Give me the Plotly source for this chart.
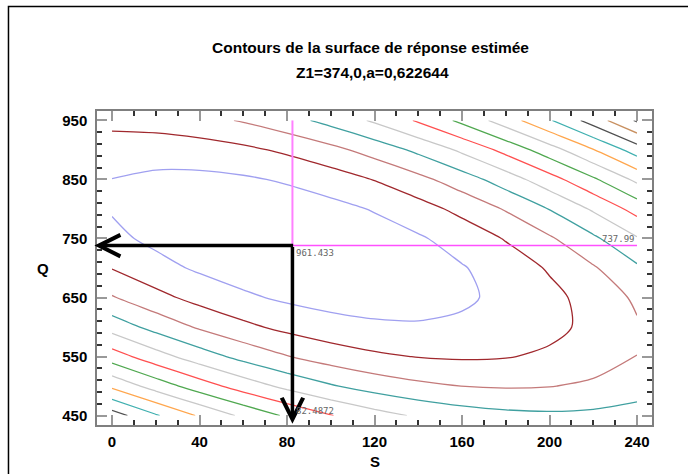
import plotly.graph_objects as go

# Estimated response surface, rows = Q, columns = S
S_VALUES = [0, 20, 40, 60, 80, 100, 120, 140, 160, 180, 200, 220, 240]
Q_VALUES = [450, 500, 550, 600, 650, 700, 750, 800, 850, 900, 950]
Z_GRID = [
    [166.0, 262.2, 348.4, 424.6, 490.8, 547.0, 593.2, 629.4, 655.6, 671.8, 678.1, 674.3, 660.5],
    [354.6, 440.3, 516.1, 581.9, 637.6, 683.4, 719.2, 744.9, 760.7, 766.5, 762.3, 748.1, 723.9],
    [515.5, 590.8, 656.2, 711.5, 756.8, 792.2, 817.5, 832.8, 838.2, 833.5, 818.9, 794.2, 759.6],
    [648.8, 713.7, 768.6, 813.5, 848.4, 873.3, 888.2, 893.1, 888.0, 872.9, 847.8, 812.8, 767.7],
    [754.5, 809.0, 853.4, 887.9, 912.3, 926.8, 931.3, 925.7, 910.2, 884.7, 849.2, 803.7, 748.2],
    [832.6, 876.6, 910.6, 934.6, 948.7, 952.7, 946.7, 930.8, 904.8, 868.9, 822.9, 767.0, 701.0],
    [883.0, 916.6, 940.2, 953.8, 957.3, 950.9, 934.6, 908.2, 871.8, 825.4, 769.0, 702.6, 626.2],
    [905.8, 928.9, 942.1, 945.3, 938.4, 921.6, 894.8, 857.9, 811.1, 754.3, 687.5, 610.6, 523.8],
    [901.0, 913.7, 916.4, 909.1, 891.9, 864.6, 827.3, 780.1, 722.8, 655.6, 578.3, 491.1, 393.8],
    [868.5, 870.8, 863.1, 845.4, 817.7, 780.0, 732.3, 674.6, 606.9, 529.2, 441.5, 343.8, 236.2],
    [808.4, 800.3, 782.2, 754.0, 715.9, 667.7, 609.6, 541.5, 463.3, 375.2, 277.1, 169.0, 50.9],
]
LEVEL_START, LEVEL_END, LEVEL_STEP = 60, 900, 70
# colours of the levels, from the lowest (60) to the highest (900)
LEVEL_COLORS = ['#606060', '#c89060', '#505050', '#40b0b0', '#ffa64d', '#c8c8c8', '#50a850',
                '#ff5050', '#c8c8c8', '#40a0a0', '#c47a7a', '#a0282d', '#a0a0f0']
S_OPT, Q_OPT, Z_OPT = 82.4872, 737.99, 961.433
S_LABEL, Q_LABEL, Z_LABEL = "82.4872", "737.99", "961.433"
X_TICKS = [0, 40, 80, 120, 160, 200, 240]
Y_TICKS = [450, 550, 650, 750, 850, 950]

n = len(LEVEL_COLORS) - 1
cs = [[i / n, col] for i, col in enumerate(LEVEL_COLORS)]

fig = go.Figure()
fig.add_trace(go.Contour(x=S_VALUES, y=Q_VALUES, z=Z_GRID, showscale=False, colorscale=cs,
                         zmin=LEVEL_START, zmax=LEVEL_END,
                         contours=dict(coloring='lines', start=LEVEL_START, end=LEVEL_END, size=LEVEL_STEP),
                         line=dict(width=1.3, smoothing=0.8), hoverinfo='skip'))
fig.add_trace(go.Scatter(x=[S_OPT, S_OPT], y=[Q_OPT, Q_VALUES[-1]], mode='lines',
                         line=dict(color='#ff80ff', width=2), hoverinfo='skip'))
fig.add_trace(go.Scatter(x=[S_OPT, S_VALUES[-1]], y=[Q_OPT, Q_OPT], mode='lines',
                         line=dict(color='#ff50ff', width=1.5), hoverinfo='skip'))

XR = [-6.86, 246.86]
YR = [434, 966]
font = "Liberation Sans, Arial, sans-serif"
ax_common = dict(showline=True, linecolor='#7f7f7f', linewidth=1.5, mirror='allticks', ticks='inside', ticklen=10,
                 tickcolor='#999', tickwidth=1.5, showgrid=False, zeroline=False,
                 tickfont=dict(family=font, size=15, color='black', weight='bold'))
fig.update_xaxes(range=XR, tickvals=X_TICKS,
                 minor=dict(tick0=0, dtick=10, ticks='inside', ticklen=5, tickcolor='#333'),
                 ticklabelstandoff=2, **ax_common)
fig.update_yaxes(range=YR, tickvals=Y_TICKS,
                 minor=dict(tick0=450, dtick=20, ticks='inside', ticklen=5, tickcolor='#333'),
                 ticklabelstandoff=5, **ax_common)

# black arrows from the optimum towards the axes
fig.add_annotation(x=XR[0] - 1.2, y=Q_OPT, ax=S_OPT + 1, ay=Q_OPT, xref='x', yref='y', axref='x', ayref='y', text='',
                   showarrow=True, arrowhead=5, arrowwidth=3.5, arrowsize=1.2, arrowcolor='black')
fig.add_annotation(x=S_OPT, y=YR[0] + 2, ax=S_OPT, ay=Q_OPT, xref='x', yref='y', axref='x', ayref='y', text='',
                   showarrow=True, arrowhead=5, arrowwidth=3.5, arrowsize=1.2, arrowcolor='black')

small = dict(family="DejaVu Sans Mono", size=9, color='#666')
fig.add_annotation(x=S_OPT, y=Q_OPT, text=Z_LABEL, showarrow=False, xanchor='left', yanchor='top', xshift=2, font=small)
fig.add_annotation(x=S_VALUES[-1], y=Q_OPT, text=Q_LABEL, showarrow=False, xanchor='right', yanchor='bottom', font=small)
fig.add_annotation(x=S_OPT, y=Q_VALUES[0], text=S_LABEL, showarrow=False, xanchor='left', yanchor='bottom',
                   xshift=2, yshift=-2, font=small)

bold = dict(family=font, size=15.5, color='black', weight='bold')
fig.add_annotation(xref='paper', yref='paper', x=0.493, y=1.202, text="Contours de la surface de réponse estimée",
                   showarrow=False, font=bold, xanchor='center', yanchor='middle')
fig.add_annotation(xref='paper', yref='paper', x=0.496, y=1.124, text="Z1=374,0,a=0,622644", showarrow=False,
                   font=bold, xanchor='center', yanchor='middle')
axis_font = dict(family=font, size=15, color='black', weight='bold')
fig.add_annotation(xref='paper', yref='paper', x=0.5, y=-0.117, text="S", showarrow=False, font=axis_font,
                   xanchor='center', yanchor='middle')
fig.add_annotation(xref='paper', yref='paper', x=-0.098, y=0.5, text="Q", showarrow=False, font=axis_font,
                   xanchor='center', yanchor='middle')
fig.add_shape(type='rect', xref='paper', yref='paper', x0=-0.1595, x1=1.2, y0=-0.3, y1=1.3328,
              line=dict(color='black', width=1.5))
fig.update_layout(width=688, height=474, margin=dict(l=97, r=36, t=111, b=49),
                  plot_bgcolor='white', paper_bgcolor='white', showlegend=False)
fig.write_html("out.html")
